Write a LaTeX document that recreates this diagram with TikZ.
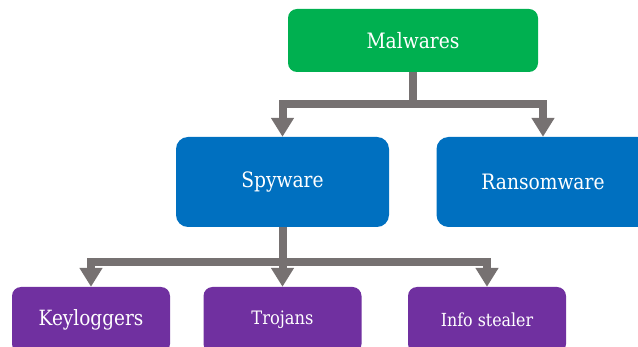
\documentclass[tikz,border=0pt]{standalone}
\usepackage{fontspec}
\setmainfont{DejaVu Serif}[FakeStretch=0.88]
\usetikzlibrary{arrows.meta}
\definecolor{cgreen}{HTML}{00B050}
\definecolor{cblue}{HTML}{0070C0}
\definecolor{cpurple}{HTML}{7030A0}
\definecolor{cgray}{HTML}{767171}
\begin{document}
\begin{tikzpicture}[x=1pt,y=-1pt,
  box/.style={rectangle,rounded corners=9pt,inner sep=0pt,text=white,anchor=center},
  topbox/.style={box,fill=cgreen,minimum width=250pt,minimum height=63pt,font=\fontsize{21.2}{25}\selectfont},
  midbox/.style={box,fill=cblue,minimum width=213pt,minimum height=90pt,rounded corners=12pt,font=\fontsize{21.2}{25}\selectfont},
  lowbox/.style={box,fill=cpurple,minimum width=158pt,minimum height=66pt,rounded corners=9pt},
  conn/.style={draw=cgray,line width=8pt,line join=miter,-{Triangle[width=22pt,length=19pt]}}]
\useasboundingbox (0,0) rectangle (638,347);
\clip (0,0) rectangle (638,347);
\node[topbox] (mal) at (413,40.5) {Malwares};
\node[midbox] (spy) at (282.5,182) {Spyware};
\node[midbox] (ran) at (543,182) {Ransomware};
\node[lowbox,font=\fontsize{21}{25}\selectfont] (kl) at (91,320) {Keyloggers};
\node[lowbox,font=\fontsize{18.5}{22}\selectfont] (tr) at (282.5,320) {Trojans};
\node[lowbox,font=\fontsize{18}{22}\selectfont] (is) at (487,320) {Info stealer};
\coordinate (j1) at (413,104);
\coordinate (j2) at (282.5,262);
\draw[draw=cgray,line width=8pt] (mal.south) -- (j1);
\draw[conn] (j1) -| (spy.north);
\draw[conn] (j1) -| (ran.north);
\draw[draw=cgray,line width=8pt] (spy.south) -- (j2);
\draw[conn] (j2) -| (kl.north);
\draw[conn] (j2) -- (tr.north);
\draw[conn] (j2) -| (is.north);
\end{tikzpicture}
\end{document}
